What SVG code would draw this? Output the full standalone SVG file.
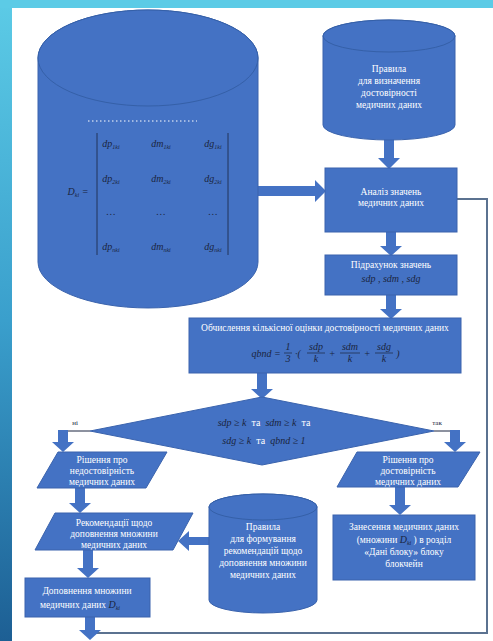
<svg xmlns="http://www.w3.org/2000/svg" width="493" height="641" viewBox="0 0 493 641">
  <defs>
    <linearGradient id="edge" x1="0" y1="0" x2="0" y2="1">
      <stop offset="0" stop-color="#5ccbe6"/>
      <stop offset="0.5" stop-color="#3a9fcc"/>
      <stop offset="1" stop-color="#1d5f94"/>
    </linearGradient>
    <style>
      .shape { fill: #4472c4; stroke: #3a63ad; stroke-width: 1; }
      .cap { fill: #4472c4; stroke: #3560a8; stroke-width: 1; }
      .ba { fill: #4472c4; }
      .t { font-family: "Liberation Serif", "Times New Roman", serif; font-size: 9.5px; fill: #ffffff; text-anchor: middle; }
      .m { font-family: "Liberation Serif", "Times New Roman", serif; font-size: 10px; font-style: italic; fill: #1a2540; text-anchor: middle; }
      .ms { font-size: 6px; }
      .w { fill: #ffffff; font-style: normal; }
      .lbl { font-family: "Liberation Serif", "Times New Roman", serif; font-size: 7px; fill: #1a2540; text-anchor: middle; }
      .loop { fill: none; stroke: #5b7290; stroke-width: 2; }
      .thin { fill: none; stroke: #1a2540; stroke-width: 1; }
    </style>
  </defs>

  <!-- page frame -->
  <rect x="0" y="0" width="493" height="641" fill="url(#edge)"/>
  <rect x="0" y="0" width="493" height="8" fill="#5ccbe6"/>
  <rect x="12" y="8" width="481" height="633" fill="#ffffff"/>

  <!-- connectors -->
  <g id="connectors">
    <polyline class="loop" points="457,199 487,199 487,633 90,633"/>
    <polyline class="thin" points="90,431 63,431"/>
    <polyline class="thin" points="434,431 455,431"/>
    <!-- store -> analysis -->
    <polygon class="ba" points="258,186 315,186 315,180 326,191 315,202 315,196 258,196"/>
    <!-- rules -> analysis -->
    <polygon class="ba" points="384,138 394,138 394,158 400,158 389,169 378,158 384,158"/>
    <!-- analysis -> count -->
    <polygon class="ba" points="386,232 396,232 396,246 402,246 391,256 380,246 386,246"/>
    <!-- count -> evaluation -->
    <polygon class="ba" points="386,295 396,295 396,309 402,309 391,319 380,309 386,309"/>
    <!-- evaluation -> decision -->
    <polygon class="ba" points="257,373 267,373 267,389 273,389 262,399 251,389 257,389"/>
    <!-- no branch -->
    <polygon class="ba" points="58,430 68,430 68,442 74,442 63,452 52,442 58,442"/>
    <!-- yes branch -->
    <polygon class="ba" points="450,430 460,430 460,442 466,442 455,452 444,442 450,442"/>
    <!-- unreliable -> recommendations -->
    <polygon class="ba" points="75,488 85,488 85,503 91,503 80,513 69,503 75,503"/>
    <!-- recommendations -> supplement -->
    <polygon class="ba" points="83,550 93,550 93,568 99,568 88,578 77,568 83,568"/>
    <!-- supplement -> loop -->
    <polygon class="ba" points="85,617 95,617 95,630 101,630 90,640 79,630 85,630"/>
    <!-- reliable -> blockchain entry -->
    <polygon class="ba" points="395,487 405,487 405,505 411,505 400,515 389,505 395,505"/>
    <!-- rules store -> recommendations -->
    <polygon class="ba" points="210,537 189,537 189,531 178,541 189,551 189,545 210,545"/>
  </g>

  <!-- medical data store -->
  <g id="data-store">
    <path class="shape" d="M38,58 A110,48 0 0 1 258,58 L258,262 A110,46 0 0 1 38,262 Z"/>
    <ellipse class="cap" cx="148" cy="58" rx="110" ry="48"/>
    <line x1="88" y1="121" x2="197" y2="121" stroke="#ffffff" stroke-width="1" stroke-dasharray="1.5 2.5"/>
    <line x1="97" y1="133" x2="97" y2="255" stroke="#1a2540" stroke-width="0.8"/>
    <line x1="228" y1="133" x2="228" y2="255" stroke="#1a2540" stroke-width="0.8"/>
    <text class="m" x="78" y="195">D<tspan class="ms" dy="2">ki</tspan><tspan dy="-2"> =</tspan></text>
    <text class="m" x="111" y="147">dp<tspan class="ms" dy="2">1ki</tspan></text>
    <text class="m" x="161" y="147">dm<tspan class="ms" dy="2">1ki</tspan></text>
    <text class="m" x="213" y="147">dg<tspan class="ms" dy="2">1ki</tspan></text>
    <text class="m" x="111" y="182">dp<tspan class="ms" dy="2">2ki</tspan></text>
    <text class="m" x="161" y="182">dm<tspan class="ms" dy="2">2ki</tspan></text>
    <text class="m" x="213" y="182">dg<tspan class="ms" dy="2">2ki</tspan></text>
    <text class="m" x="111" y="215">…</text>
    <text class="m" x="161" y="215">…</text>
    <text class="m" x="213" y="215">…</text>
    <text class="m" x="111" y="250">dp<tspan class="ms" dy="2">nki</tspan></text>
    <text class="m" x="161" y="250">dm<tspan class="ms" dy="2">nki</tspan></text>
    <text class="m" x="213" y="250">dg<tspan class="ms" dy="2">nki</tspan></text>
  </g>

  <!-- reliability rules store -->
  <g id="reliability-rules">
    <path class="shape" d="M323,36 A66,16 0 0 1 455,36 L455,125 A66,15 0 0 1 323,125 Z"/>
    <ellipse class="cap" cx="389" cy="36" rx="66" ry="16"/>
    <text class="t" x="389" y="72">Правила</text>
    <text class="t" x="389" y="84">для визначення</text>
    <text class="t" x="389" y="96">достовірності</text>
    <text class="t" x="389" y="108">медичних даних</text>
  </g>

  <!-- analysis -->
  <g id="analysis">
    <rect class="shape" x="325" y="168" width="132" height="64"/>
    <text class="t" x="391" y="195">Аналіз значень</text>
    <text class="t" x="391" y="206">медичних даних</text>
  </g>

  <!-- counting -->
  <g id="counting">
    <rect class="shape" x="325" y="255" width="132" height="40"/>
    <text class="t" x="391" y="268">Підрахунок значень</text>
    <text class="m" x="391" y="282">sdp , sdm , sdg</text>
  </g>

  <!-- evaluation -->
  <g id="evaluation">
    <rect class="shape" x="189" y="318" width="272" height="55"/>
    <text class="t" x="325" y="331">Обчислення кількісної оцінки достовірності медичних даних</text>
    <text class="m" x="266" y="357">qbnd =</text>
    <text class="m" x="288" y="350">1</text>
    <line x1="284" y1="353" x2="292" y2="353" stroke="#1a2540" stroke-width="0.7"/>
    <text class="m" x="288" y="362">3</text>
    <text class="m" x="298" y="357">·(</text>
    <text class="m" x="316" y="350">sdp</text>
    <line x1="307" y1="353" x2="325" y2="353" stroke="#1a2540" stroke-width="0.7"/>
    <text class="m" x="316" y="362">k</text>
    <text class="m" x="332" y="357">+</text>
    <text class="m" x="350" y="350">sdm</text>
    <line x1="340" y1="353" x2="360" y2="353" stroke="#1a2540" stroke-width="0.7"/>
    <text class="m" x="350" y="362">k</text>
    <text class="m" x="367" y="357">+</text>
    <text class="m" x="384" y="350">sdg</text>
    <line x1="375" y1="353" x2="393" y2="353" stroke="#1a2540" stroke-width="0.7"/>
    <text class="m" x="384" y="362">k</text>
    <text class="m" x="398" y="357">)</text>
  </g>

  <!-- decision -->
  <g id="decision">
    <polygon class="shape" points="90,431 262,397 434,431 262,465"/>
    <text class="m" x="264" y="426">sdp ≥ k&#160;&#160;<tspan class="w">та</tspan>&#160;&#160;sdm ≥ k&#160;&#160;<tspan class="w">та</tspan></text>
    <text class="m" x="264" y="444">sdg ≥ k&#160;&#160;<tspan class="w">та</tspan>&#160;&#160;qbnd ≥ 1</text>
    <text class="lbl" x="75" y="425">ні</text>
    <text class="lbl" x="437" y="425">так</text>
  </g>

  <!-- unreliable decision -->
  <g id="unreliable">
    <polygon class="shape" points="58,452 167,452 146,488 37,488"/>
    <text class="t" x="102" y="463">Рішення про</text>
    <text class="t" x="102" y="474">недостовірність</text>
    <text class="t" x="102" y="485">медичних даних</text>
  </g>

  <!-- recommendations -->
  <g id="recommendations">
    <polygon class="shape" points="55,513 193,513 173,550 35,550"/>
    <text class="t" x="114" y="526">Рекомендації щодо</text>
    <text class="t" x="114" y="537">доповнення множини</text>
    <text class="t" x="114" y="548">медичних даних</text>
  </g>

  <!-- supplement -->
  <g id="supplement">
    <rect class="shape" x="25" y="578" width="125" height="39"/>
    <text class="t" x="87" y="594">Доповнення множини</text>
    <text class="t" x="80" y="608">медичних даних <tspan class="m" font-size="11px" fill="#1a2540">D<tspan class="ms" dy="2">ki</tspan></tspan></text>
  </g>

  <!-- recommendation rules store -->
  <g id="recommendation-rules">
    <path class="shape" d="M209,507 A54,13 0 0 1 317,507 L317,600 A54,13 0 0 1 209,600 Z"/>
    <ellipse class="cap" cx="263" cy="507" rx="54" ry="13"/>
    <text class="t" x="263" y="530">Правила</text>
    <text class="t" x="263" y="542">для формування</text>
    <text class="t" x="263" y="554">рекомендацій щодо</text>
    <text class="t" x="263" y="566">доповнення множини</text>
    <text class="t" x="263" y="578">медичних даних</text>
  </g>

  <!-- reliable decision -->
  <g id="reliable">
    <polygon class="shape" points="357,452 480,452 458,487 337,487"/>
    <text class="t" x="408" y="463">Рішення про</text>
    <text class="t" x="408" y="474">достовірність</text>
    <text class="t" x="408" y="485">медичних даних</text>
  </g>

  <!-- blockchain entry -->
  <g id="blockchain-entry">
    <rect class="shape" x="333" y="515" width="142" height="65"/>
    <text class="t" x="404" y="530">Занесення медичних даних</text>
    <text class="t" x="404" y="543">(множини <tspan class="m" fill="#1a2540">D<tspan class="ms" dy="2">ki</tspan></tspan><tspan dy="-2"> ) в розділ</tspan></text>
    <text class="t" x="404" y="555">«Дані блоку» блоку</text>
    <text class="t" x="404" y="567">блокчейн</text>
  </g>
</svg>
